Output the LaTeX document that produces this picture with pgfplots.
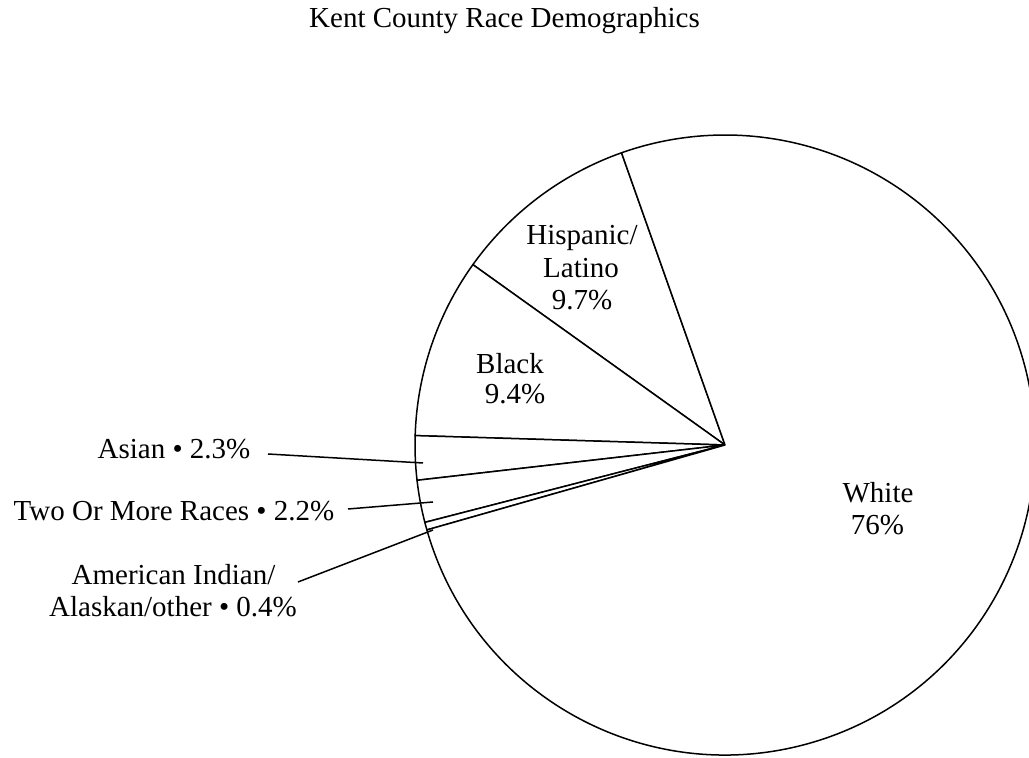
\documentclass[border=0pt]{standalone}
\usepackage{pgfplots}
\usepackage{pgfplotstable}
\usepackage{fontspec}
\setmainfont{Liberation Serif}
\pgfplotsset{compat=1.18}

\pgfplotstableread{
name value
Hispanic 9.7
Black 9.4
Asian 2.3
TwoOrMore 2.2
AmInd 0.4
White 76
}\piedata

\begin{document}
\begin{tikzpicture}[font=\fontsize{29bp}{33bp}\selectfont]
\begin{axis}[
  hide axis, scale only axis,
  width=1029bp, height=758bp,
  xmin=0, xmax=1029, ymin=0, ymax=758,
]
\path (rel axis cs:0,0) rectangle (rel axis cs:1,1);
\pgfmathsetmacro\angA{109.5}
\pgfplotsforeachungrouped \i in {0,...,5} {
  \pgfplotstablegetelem{\i}{value}\of\piedata
  \pgfmathsetmacro\angB{\angA+3.6*\pgfplotsretval}
  \edef\tmp{\noexpand\draw[line width=1.5bp, fill=white, line join=round] (axis cs:725,313) -- ++(\angA:310bp) arc[start angle=\angA, end angle=\angB, radius=310bp] -- cycle;}
  \tmp
  \let\angA\angB
}
% title
\node[anchor=base] at (axis cs:504.5,730) {Kent County Race Demographics};
% inner labels
\node[anchor=base] at (axis cs:582,513) {Hispanic/};
\node[anchor=base] at (axis cs:581,480) {Latino};
\node[anchor=base] at (axis cs:582,448) {9.7\%};
\node[anchor=base] at (axis cs:510,384) {Black};
\node[anchor=base] at (axis cs:515,354) {9.4\%};
\node[anchor=base] at (axis cs:878,255) {White};
\node[anchor=base] at (axis cs:877.5,223) {76\%};
% outer labels
\node[anchor=base] at (axis cs:174,299) {Asian • 2.3\%};
\node[anchor=base] at (axis cs:174,237) {Two Or More Races • 2.2\%};
\node[anchor=base] at (axis cs:173.5,173) {American Indian/};
\node[anchor=base] at (axis cs:173,141) {Alaskan/other • 0.4\%};
% leader lines
\addplot[line width=1.5bp, black] coordinates {(268,304) (423,295)};
\addplot[line width=1.5bp, black] coordinates {(348,249) (433,256)};
\addplot[line width=1.5bp, black] coordinates {(298,176) (433,228)};
\end{axis}
\end{tikzpicture}
\end{document}
